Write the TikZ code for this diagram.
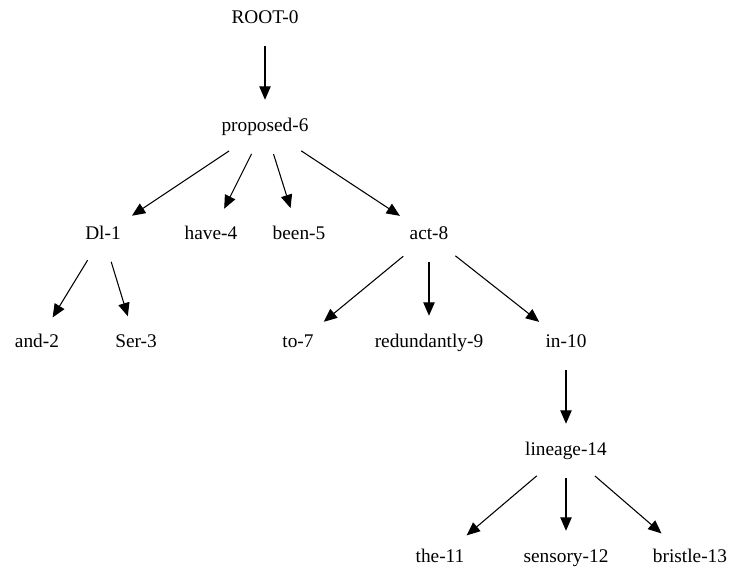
\documentclass[tikz,border=0pt]{standalone}
\usepackage{fontspec}
\setmainfont{Liberation Serif}
\usetikzlibrary{shapes.geometric,arrows.meta}
\begin{document}
\begin{tikzpicture}[x=0.75pt,y=-0.75pt,
  word/.style={ellipse,inner xsep=7pt,inner ysep=0pt,
    minimum width=61pt,minimum height=40.5pt,
    text height=10pt,text depth=3pt,
    font=\fontsize{14.5}{17}\selectfont},
  dep/.style={-{Triangle[length=10pt,width=8.5pt]},line width=0.8pt}]
\useasboundingbox (0,0) rectangle (741,569);
% words
\node[word] (root) at (265,19) {ROOT-0};
\node[word] (proposed) at (265,127) {proposed-6};
\node[word] (dl) at (103,235) {Dl-1};
\node[word] (have) at (211,235) {have-4};
\node[word] (been) at (299,235) {been-5};
\node[word] (act) at (429,235) {act-8};
\node[word] (and) at (37,343) {and-2};
\node[word] (ser) at (136,343) {Ser-3};
\node[word] (to) at (298,343) {to-7};
\node[word] (redund) at (429,343) {redundantly-9};
\node[word] (in) at (566,343) {in-10};
\node[word] (lineage) at (566,451) {lineage-14};
\node[word] (the) at (440,558) {the-11};
\node[word] (sensory) at (566,558) {sensory-12};
\node[word] (bristle) at (690,558) {bristle-13};
% dependencies
\draw[dep] (root) -- (proposed);
\draw[dep] (proposed) -- (dl);
\draw[dep] (proposed) -- (have);
\draw[dep] (proposed) -- (been);
\draw[dep] (proposed) -- (act);
\draw[dep] (dl) -- (and);
\draw[dep] (dl) -- (ser);
\draw[dep] (act) -- (to);
\draw[dep] (act) -- (redund);
\draw[dep] (act) -- (in);
\draw[dep] (in) -- (lineage);
\draw[dep] (lineage) -- (the);
\draw[dep] (lineage) -- (sensory);
\draw[dep] (lineage) -- (bristle);
\end{tikzpicture}
\end{document}
